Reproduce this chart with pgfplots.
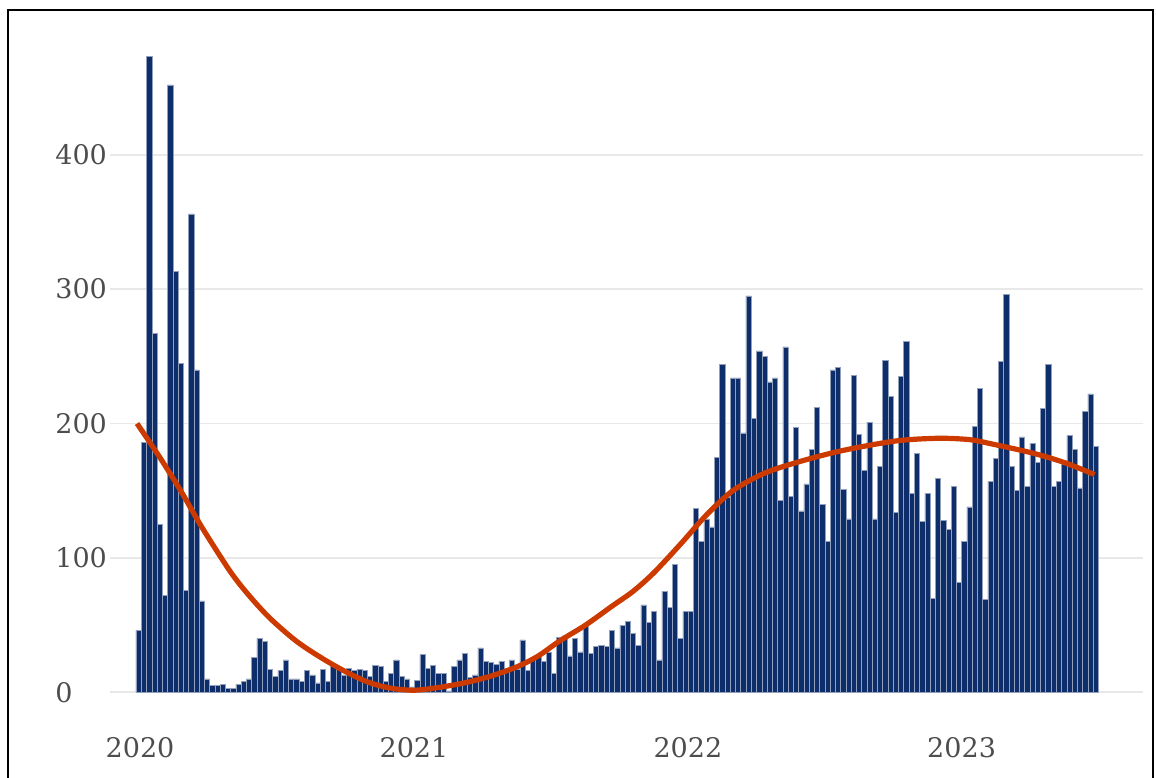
\documentclass[border=0pt]{standalone}
\usepackage{pgfplots}
\pgfplotsset{compat=1.18}
\usepackage{fontspec}
\setmainfont{DejaVu Serif}
\definecolor{barblue}{RGB}{14,45,107}
\definecolor{lineorange}{RGB}{204,58,0}
\definecolor{gridgray}{RGB}{232,232,232}
\definecolor{ticktext}{RGB}{77,77,77}
\begin{document}
\begin{tikzpicture}
\useasboundingbox (-55pt,-26.5pt) rectangle (523pt,362pt);
\begin{axis}[
  at={(0pt,0pt)}, anchor=south west,
  scale only axis, width=516.5pt, height=349.5pt,
  xmin=-5.44, xmax=191.0, ymin=-23.65, ymax=496.6,
  axis line style={draw=none}, major tick length=0pt,
  xtick={0.27,52.36,104.45,156.5}, xticklabels={2020,2021,2022,2023},
  ytick={0,100,200,300,400},
  ymajorgrids, major grid style={gridgray, line width=0.9pt},
  /pgf/number format/assume math mode=true,
  tick label style={font=\fontsize{13.5}{15}\selectfont, text=ticktext},
  yticklabel style={anchor=west, inner sep=0pt, xshift=-27.5pt},
  xticklabel style={anchor=north, inner sep=0pt, yshift=-6.5pt},
  clip=false,
]
\addplot[ybar, bar width=1, fill=barblue, draw=white!55!barblue, line width=0.25pt] coordinates {
(0,46) (1,186) (2,473) (3,267) (4,125) (5,72) (6,452) (7,313) (8,245) (9,76)
(10,356) (11,240) (12,68) (13,10) (14,5) (15,5) (16,6) (17,3) (18,3) (19,6)
(20,8) (21,10) (22,26) (23,40) (24,38) (25,17) (26,12) (27,16) (28,24) (29,10)
(30,10) (31,8) (32,16) (33,13) (34,7) (35,17) (36,8) (37,19) (38,17) (39,13)
(40,18) (41,16) (42,17) (43,16) (44,12) (45,20) (46,19) (47,8) (48,14) (49,24)
(50,12) (51,10) (52,4) (53,9) (54,28) (55,18) (56,20) (57,14) (58,14) (59,1)
(60,19) (61,24) (62,29) (63,11) (64,13) (65,33) (66,23) (67,22) (68,21) (69,23)
(70,18) (71,24) (72,17) (73,39) (74,16) (75,25) (76,27) (77,23) (78,30) (79,14)
(80,41) (81,42) (82,27) (83,40) (84,30) (85,49) (86,29) (87,34) (88,35) (89,34)
(90,46) (91,33) (92,50) (93,53) (94,44) (95,35) (96,65) (97,52) (98,60) (99,24)
(100,75) (101,63) (102,95) (103,40) (104,60) (105,60) (106,137) (107,112) (108,129) (109,123)
(110,175) (111,244) (112,145) (113,234) (114,234) (115,193) (116,295) (117,204) (118,254) (119,250)
(120,231) (121,234) (122,143) (123,257) (124,146) (125,197) (126,135) (127,155) (128,181) (129,212)
(130,140) (131,112) (132,240) (133,242) (134,151) (135,129) (136,236) (137,192) (138,165) (139,201)
(140,129) (141,168) (142,247) (143,220) (144,134) (145,235) (146,261) (147,148) (148,178) (149,127)
(150,148) (151,70) (152,159) (153,128) (154,121) (155,153) (156,82) (157,112) (158,138) (159,198)
(160,226) (161,69) (162,157) (163,174) (164,246) (165,296) (166,168) (167,150) (168,190) (169,153)
(170,185) (171,171) (172,211) (173,244) (174,153) (175,157) (176,170) (177,191) (178,181) (179,152)
(180,209) (181,222) (182,183)
};
\addplot[smooth, lineorange, line width=2.6pt] coordinates {
(-0.3,200) (4,175) (8,150) (12,123) (17.4,90) (21,72) (25,55) (30,38) (35,25) (40,14)
(44,7) (48,3) (52.4,1.5) (57,3.5) (62,7) (67,12) (72,19) (76,27) (80,38) (85,50)
(90,64) (94,75) (98,89) (103,110) (108,132) (113,150) (119,163) (126,172) (134,180) (144,187)
(152,189) (158,188) (162,185) (170,178) (176,171) (181.8,162)
};
\end{axis}
\draw[line width=0.75pt] (-51pt,-40pt) -- (-51pt,357pt) -- (521.5pt,357pt) -- (521.5pt,-40pt);
\end{tikzpicture}
\end{document}
